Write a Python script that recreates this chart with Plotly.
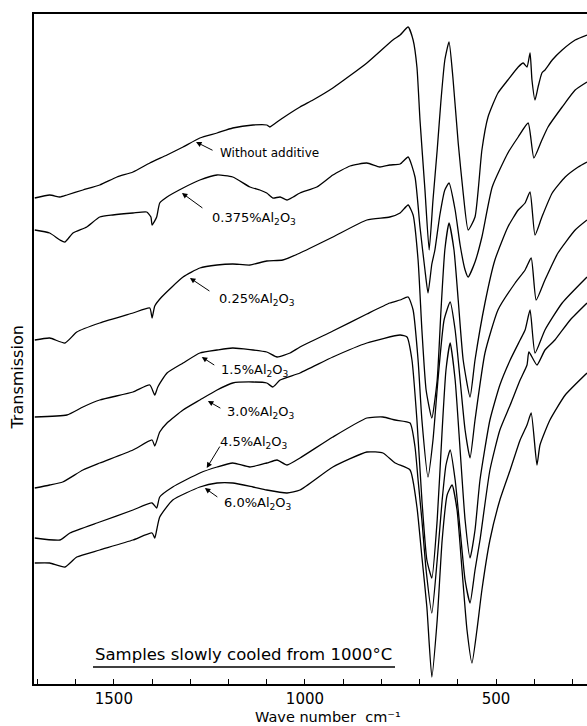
import plotly.graph_objects as go

# ---------------- data (wave number cm^-1, transmission in arbitrary units) ----------------
SERIES_NAMES = ["Without additive", "0.375% Al2O3", "0.25% Al2O3", "1.5% Al2O3",
                "3.0% Al2O3", "4.5% Al2O3", "6.0% Al2O3"]

WN_1 = [1707, 1668, 1641, 1623, 1581, 1537, 1492, 1450, 1406, 1361, 1319, 1275, 1230, 1189, 1136,
        1100, 1092, 1084, 1058, 1013, 979, 927, 838, 770, 751, 730, 717, 707, 699, 686,
        675, 665, 654, 644, 634, 623, 613, 599, 586, 573, 555, 537, 521, 495, 469,
        442, 429, 419, 411, 406, 398, 390, 380, 372, 353, 327, 293, 262]
T_1 = [486, 489, 487, 489, 494, 499, 507, 512, 521, 529, 537, 546, 551, 556, 559,
       559, 557, 559, 566, 577, 584, 596, 621, 644, 649, 657, 644, 617, 564, 494,
       434, 484, 534, 584, 624, 642, 607, 541, 491, 454, 467, 534, 567, 591, 604,
       617, 621, 617, 631, 604, 584, 597, 611, 614, 624, 634, 644, 649]

WN_2 = [1707, 1668, 1641, 1628, 1607, 1571, 1537, 1503, 1450, 1414, 1403, 1400, 1388, 1380, 1361,
        1319, 1275, 1230, 1189, 1144, 1118, 1100, 1084, 1065, 1047, 1031, 1013, 969, 927, 882,
        838, 804, 778, 751, 730, 712, 699, 686, 678, 668, 660, 647, 634, 623, 607,
        594, 581, 573, 555, 537, 510, 469, 442, 416, 401, 380, 364, 327, 293, 262]
T_2 = [454, 451, 444, 442, 451, 457, 467, 469, 471, 472, 467, 459, 467, 481, 487,
       496, 504, 509, 507, 497, 494, 491, 486, 487, 484, 487, 491, 497, 509, 518,
       521, 517, 519, 520, 527, 507, 457, 414, 391, 420, 434, 469, 494, 501, 474,
       439, 414, 407, 422, 447, 497, 531, 547, 561, 526, 544, 557, 577, 594, 602]

WN_3 = [1707, 1668, 1628, 1597, 1537, 1450, 1406, 1400, 1393, 1375, 1319, 1275, 1230, 1189, 1144,
        1100, 1058, 1013, 927, 838, 778, 751, 730, 717, 704, 694, 683, 668, 654, 644,
        634, 623, 610, 599, 586, 568, 555, 529, 503, 469, 442, 424, 411, 398, 380,
        353, 319, 285, 262]
T_3 = [344, 346, 341, 352, 361, 371, 376, 366, 378, 387, 407, 416, 419, 420, 419,
       423, 424, 431, 447, 464, 467, 471, 479, 469, 424, 354, 294, 266, 304, 374,
       434, 461, 434, 384, 324, 287, 324, 381, 424, 457, 474, 481, 492, 449, 467,
       491, 507, 517, 522]

WN_4 = [1707, 1623, 1581, 1537, 1450, 1406, 1393, 1385, 1361, 1319, 1275, 1230, 1189, 1100, 1073,
        1039, 1013, 927, 838, 778, 751, 730, 717, 704, 694, 678, 665, 652, 636, 620,
        607, 594, 581, 568, 555, 529, 495, 450, 424, 408, 395, 372, 338, 293, 262]
T_4 = [267, 269, 277, 284, 292, 299, 289, 297, 311, 321, 331, 334, 336, 332, 327,
       331, 337, 353, 370, 381, 384, 387, 374, 324, 264, 207, 244, 304, 364, 382,
       354, 304, 254, 226, 264, 331, 374, 401, 414, 426, 384, 404, 431, 454, 464]

WN_5 = [1707, 1668, 1634, 1581, 1537, 1450, 1400, 1393, 1380, 1361, 1319, 1275, 1230, 1189, 1136,
        1100, 1084, 1065, 1013, 927, 838, 751, 733, 720, 707, 694, 681, 668, 654, 641,
        631, 620, 607, 594, 581, 568, 555, 542, 516, 490, 463, 437, 424, 411, 398,
        372, 327, 262]
T_5 = [196, 199, 202, 214, 221, 234, 244, 238, 252, 261, 274, 284, 294, 301, 302,
       301, 297, 304, 311, 327, 341, 349, 347, 324, 264, 184, 124, 106, 164, 254,
       314, 341, 304, 234, 164, 126, 154, 204, 264, 299, 324, 344, 354, 374, 331,
       354, 381, 407]

WN_6 = [1707, 1641, 1615, 1537, 1450, 1400, 1388, 1380, 1346, 1275, 1230, 1189, 1144, 1100, 1073,
        1047, 1013, 927, 838, 796, 764, 725, 712, 704, 694, 683, 668, 654, 641, 631,
        620, 607, 594, 581, 568, 555, 542, 516, 490, 463, 437, 419, 414, 393, 372,
        346, 306, 262]
T_6 = [146, 144, 151, 162, 174, 181, 176, 187, 197, 211, 217, 221, 217, 221, 224,
       219, 226, 247, 266, 267, 264, 261, 237, 204, 164, 114, 71, 124, 184, 219,
       234, 204, 154, 104, 81, 114, 144, 214, 254, 279, 304, 319, 332, 319, 334,
       344, 364, 381]

WN_7 = [1707, 1668, 1628, 1597, 1537, 1450, 1400, 1393, 1388, 1380, 1346, 1275, 1230, 1189, 1136,
        1100, 1047, 1013, 927, 838, 796, 764, 725, 707, 694, 681, 668, 654, 641, 628,
        615, 602, 589, 576, 563, 550, 537, 516, 490, 463, 437, 419, 408, 393, 385,
        359, 319, 262]
T_7 = [121, 121, 117, 127, 134, 144, 151, 146, 154, 167, 184, 197, 201, 201, 197,
       194, 191, 194, 217, 232, 231, 221, 214, 177, 127, 77, 7, 64, 144, 189,
       199, 174, 114, 54, 21, 54, 94, 144, 184, 214, 244, 259, 271, 219, 239,
       264, 289, 311]

TICK_VALS = [1700, 1600, 1500, 1400, 1300, 1200, 1100, 1000, 900, 800, 700, 600, 500, 400, 300]
TICK_TEXT = ["", "", "1500", "", "", "", "", "1000", "", "", "", "", "500", "", ""]

LABEL_TEXTS = ["Without additive",
               "0.375%Al<sub>2</sub>O<sub>3</sub>",
               "0.25%Al<sub>2</sub>O<sub>3</sub>",
               "1.5%Al<sub>2</sub>O<sub>3</sub>",
               "3.0%Al<sub>2</sub>O<sub>3</sub>",
               "4.5%Al<sub>2</sub>O<sub>3</sub>",
               "6.0%Al<sub>2</sub>O<sub>3</sub>"]
LABEL_SIZES = [12, 13, 13, 13, 13, 13, 13]
# label text anchor (left edge) in data coords
LABEL_WN = [1228, 1249, 1230, 1225, 1209, 1228, 1217]
LABEL_T = [531, 466, 385, 314, 272, 242, 181]
# arrow heads (data) and tails (pixel offsets)
ARROW_WN = [1285, 1322, 1301, 1270, 1254, 1257, 1262]
ARROW_T = [542, 491, 406, 327, 283, 216, 196]
ARROW_AX = [18, 22, 21, 14, 14, 14, 14]
ARROW_AY = [9, 16, 14, 9, 8, -23, 10]

FONT = "DejaVu Sans"

fig = go.Figure()
all_wn = [WN_1, WN_2, WN_3, WN_4, WN_5, WN_6, WN_7]
all_t = [T_1, T_2, T_3, T_4, T_5, T_6, T_7]
for name, wn, t in zip(SERIES_NAMES, all_wn, all_t):
    fig.add_trace(go.Scatter(x=wn, y=t, mode="lines", name=name,
                             line=dict(color="black", width=1.3, shape="spline", smoothing=0.5),
                             showlegend=False, hoverinfo="skip"))

for txt, size, lx, ly in zip(LABEL_TEXTS, LABEL_SIZES, LABEL_WN, LABEL_T):
    fig.add_annotation(x=lx, y=ly, xref="x", yref="y", text=txt, showarrow=False,
                       xanchor="left", yanchor="middle",
                       font=dict(family=FONT, size=size, color="black"))

for hx, hy, ax, ay in zip(ARROW_WN, ARROW_T, ARROW_AX, ARROW_AY):
    fig.add_annotation(x=hx, y=hy, xref="x", yref="y", text="", showarrow=True,
                       ax=ax, ay=ay, arrowhead=2, arrowsize=1.1, arrowwidth=1,
                       arrowcolor="black")

# caption inside the plot
fig.add_annotation(x=0.1067, y=0.0433, xref="paper", yref="paper",
                   text="Samples slowly cooled from 1000°C", showarrow=False,
                   xanchor="left", yanchor="middle",
                   font=dict(family=FONT, size=16.5, color="black"))
fig.add_shape(type="line", xref="paper", yref="paper", x0=0.1067, x1=0.6528,
              y0=0.0254, y1=0.0254, line=dict(color="black", width=1.5))

# axis titles
fig.add_annotation(x=0.532, y=-0.0627, xref="paper", yref="paper",
                   text="Wave number  cm⁻¹", showarrow=False, borderpad=0,
                   xanchor="center", yanchor="bottom",
                   font=dict(family=FONT, size=14.5, color="black"))
fig.add_annotation(x=-0.030, y=0.458, xref="paper", yref="paper",
                   text="Transmission", showarrow=False, textangle=-90,
                   xanchor="center", yanchor="middle",
                   font=dict(family=FONT, size=16, color="black"))

fig.update_layout(
    width=587, height=726,
    margin=dict(l=34, r=0, t=14, b=42),
    plot_bgcolor="white", paper_bgcolor="white",
    xaxis=dict(range=[1709, 262], showgrid=False, zeroline=False,
               showline=True, linecolor="black", linewidth=1.5, mirror=True,
               ticks="inside", ticklen=5, tickwidth=1.2, tickcolor="black",
               tickmode="array", tickvals=TICK_VALS, ticktext=TICK_TEXT,
               tickfont=dict(family=FONT, size=15, color="black")),
    yaxis=dict(range=[0, 670], showgrid=False, zeroline=False,
               showline=True, linecolor="black", linewidth=1.5,
               showticklabels=False, ticks=""),
)

fig.write_html("out.html")
